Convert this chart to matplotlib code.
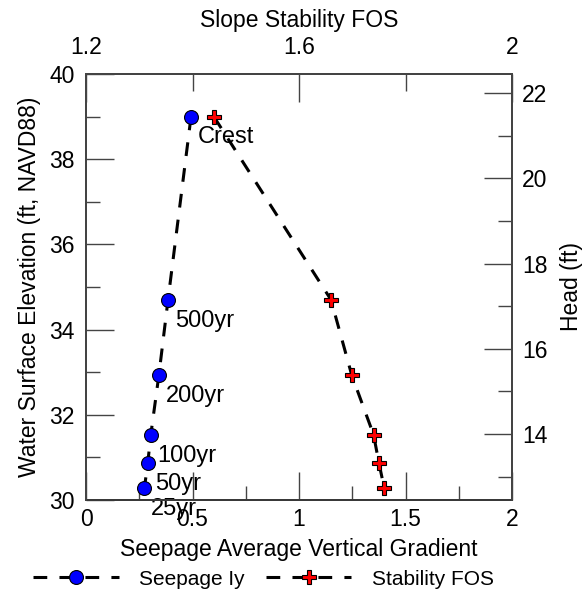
import numpy as np
import matplotlib.pyplot as plt
from matplotlib.ticker import MultipleLocator

plt.rcParams['font.family'] = ['Liberation Sans', 'DejaVu Sans']
plt.rcParams['font.size'] = 16.5

# water surface elevations (ft, NAVD88)
elevation = [39.0, 34.7, 32.93, 31.53, 30.87, 30.28]
labels = ['Crest', '500yr', '200yr', '100yr', '50yr', '25yr']
# seepage average vertical gradient
seepage_iy = [0.493, 0.385, 0.342, 0.304, 0.290, 0.274]
# slope stability factor of safety
stability_fos = [1.440, 1.660, 1.699, 1.740, 1.750, 1.760]

head_offset = 17.55  # head = elevation - offset

fig = plt.figure(figsize=(5.86, 5.97), dpi=100)
ax = fig.add_axes([0.1468, 0.1625, 0.727, 0.7136])
ax_top = ax.twiny()
ax_right = ax.twinx()

spine_col = '#444444'
dash = (4.5, 4)

l1, = ax.plot(seepage_iy, elevation, color='black', lw=2.2, dashes=dash,
              marker='o', ms=10, mfc='#0000ff', mec='black', mew=0.8,
              label='Seepage Iy', zorder=3)
l2, = ax_top.plot(stability_fos, elevation, color='black', lw=2.2, dashes=dash,
                  marker='P', ms=10, mfc='#ff0000', mec='black', mew=0.8,
                  label='Stability FOS', zorder=3)

for xv, yv, txt in zip(seepage_iy, elevation, labels):
    ax.annotate(txt, (xv, yv), xytext=(5, -15), textcoords='offset points',
                ha='left', va='center', fontsize=17, annotation_clip=False,
                zorder=4)

ax.set_xlim(0, 2)
ax.set_ylim(30, 40)
ax_top.set_xlim(1.2, 2.0)
ax_right.set_ylim(30 - head_offset, 40 - head_offset)

ax.set_xticks([0, 0.5, 1, 1.5, 2])
ax.set_xticklabels(['0', '0.5', '1', '1.5', '2'])
ax.xaxis.set_minor_locator(MultipleLocator(0.25))
ax.yaxis.set_major_locator(MultipleLocator(2))
ax.yaxis.set_minor_locator(MultipleLocator(1))
ax_top.set_xticks([1.2, 1.6, 2.0])
ax_top.set_xticklabels(['1.2', '1.6', '2'])
ax_top.xaxis.set_minor_locator(MultipleLocator(0.2))
ax_right.yaxis.set_major_locator(MultipleLocator(2))
ax_right.yaxis.set_minor_locator(MultipleLocator(1))

for a in (ax, ax_top, ax_right):
    for s in a.spines.values():
        s.set_color(spine_col)
        s.set_linewidth(1.2)
    a.tick_params(which='major', direction='in', length=20, width=1, color=spine_col)
    a.tick_params(which='minor', direction='in', length=10, width=1, color=spine_col)
ax.spines['bottom'].set_color('black')
ax_top.spines['bottom'].set_color('black')

ax.tick_params(axis='x', which='both', top=False, pad=6)
ax.tick_params(axis='y', which='both', right=False, pad=8)
ax_top.tick_params(axis='x', which='major', pad=11)
ax_top.tick_params(axis='x', which='minor', length=12)
ax_right.tick_params(axis='y', which='both', left=False, pad=7)

ax.set_xlabel('Seepage Average Vertical Gradient', labelpad=5)
ax.set_ylabel('Water Surface Elevation (ft, NAVD88)', labelpad=6)
ax_top.set_xlabel('Slope Stability FOS', labelpad=6)
ax_right.set_ylabel('Head (ft)', labelpad=9)

fig.legend(handles=[l1, l2], loc='center', bbox_to_anchor=(0.45, 0.03), ncol=2,
           frameon=False, handlelength=4.1, handletextpad=1.0, columnspacing=1.0,
           fontsize=15)

fig.savefig('out.png', dpi=100)
